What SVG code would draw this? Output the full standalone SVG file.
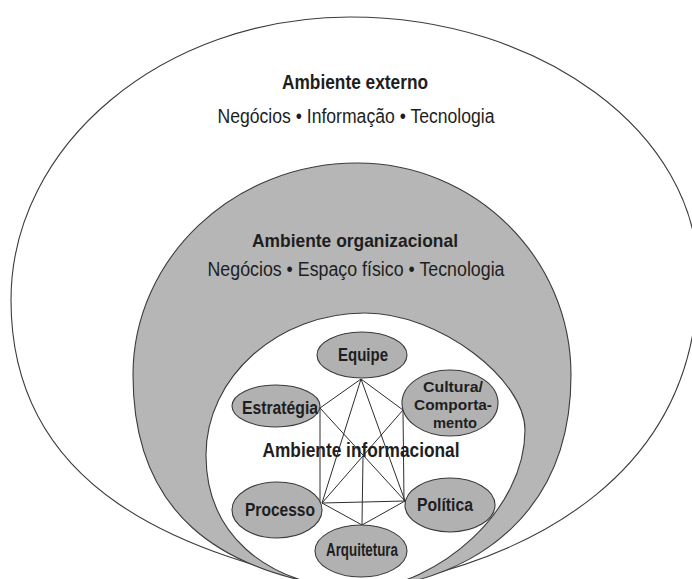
<svg xmlns="http://www.w3.org/2000/svg" width="692" height="579" viewBox="0 0 692 579">
  <style>
    .ring { stroke: #3c3c3c; stroke-width: 1.1; }
    .outer { fill: #ffffff; }
    .org { fill: #b6b6b6; }
    .info { fill: #ffffff; }
    .node ellipse { fill: #b1b1b1; stroke: #3a3a3a; stroke-width: 1.1; }
    .title { font-family: "Liberation Sans Narrow", "Liberation Sans", Arial, sans-serif; font-weight: bold; fill: #1e1e1e; text-anchor: middle; }
    .sub { font-family: "Liberation Sans Narrow", "Liberation Sans", Arial, sans-serif; fill: #1e1e1e; text-anchor: middle; }
    .label { font-family: "Liberation Sans Narrow", "Liberation Sans", Arial, sans-serif; font-weight: bold; font-size: 17.5px; fill: #1e1e1e; text-anchor: middle; }
    .small { font-size: 15.5px; }
    .links line { stroke: #2e2e2e; stroke-width: 1; }
  </style>
  <rect width="692" height="579" fill="#ffffff"/>

  <!-- Ambiente externo -->
  <g id="ambiente-externo">
    <path class="ring outer" d="M360,590 C180,556 11,490 11,300 C11,144 164,17 350,17 C541,17 698,133 698,275 C698,470 540,560 360,590 Z"/>
    <text class="title" x="355" y="89" font-size="19.5" textLength="146" lengthAdjust="spacingAndGlyphs">Ambiente externo</text>
    <text class="sub" x="356" y="123" font-size="19.5" textLength="277" lengthAdjust="spacingAndGlyphs">Negócios • Informação • Tecnologia</text>
  </g>

  <!-- Ambiente organizacional -->
  <g id="ambiente-organizacional">
    <path class="ring org" d="M360,590 C215,575 133,510 133,375 C133,258 234,163 357,163 C475,163 571,258 571,375 C571,510 480,580 360,590 Z"/>
    <text class="title" x="355" y="247" font-size="18.5" textLength="206" lengthAdjust="spacingAndGlyphs">Ambiente organizacional</text>
    <text class="sub" x="356" y="276" font-size="19.5" textLength="297" lengthAdjust="spacingAndGlyphs">Negócios • Espaço físico • Tecnologia</text>
  </g>

  <!-- Ambiente informacional -->
  <g id="ambiente-informacional">
    <path class="ring info" d="M360,590 C260,585 206,530 206,455 C206,377 278,313 365,313 C440,313 525,380 525,430 C525,510 440,585 360,590 Z"/>
  </g>

  <!-- connectors between the six components -->
  <g id="connectors" class="links">
    <line x1="361" y1="379" x2="320" y2="408"/>
    <line x1="361" y1="379" x2="403" y2="410"/>
    <line x1="361" y1="379" x2="322" y2="503"/>
    <line x1="361" y1="379" x2="405" y2="501"/>
    <line x1="320" y1="408" x2="320" y2="503"/>
    <line x1="320" y1="408" x2="405" y2="501"/>
    <line x1="403" y1="410" x2="404" y2="501"/>
    <line x1="403" y1="410" x2="322" y2="503"/>
    <line x1="322" y1="503" x2="405" y2="501"/>
    <line x1="322" y1="503" x2="362" y2="525"/>
    <line x1="405" y1="501" x2="362" y2="525"/>
    <line x1="363" y1="456" x2="362" y2="525"/>
  </g>

  <text class="title" x="361" y="457" font-size="19.5" textLength="197" lengthAdjust="spacingAndGlyphs">Ambiente informacional</text>

  <g id="equipe" class="node">
    <ellipse cx="362" cy="355" rx="45" ry="23"/>
    <text class="label" x="363" y="361" textLength="50" lengthAdjust="spacingAndGlyphs">Equipe</text>
  </g>
  <g id="estrategia" class="node">
    <ellipse cx="276" cy="406" rx="44" ry="21"/>
    <text class="label" x="280" y="414" textLength="76" lengthAdjust="spacingAndGlyphs">Estratégia</text>
  </g>
  <g id="cultura" class="node">
    <ellipse cx="450" cy="403" rx="48" ry="33"/>
    <text class="label small" x="453" y="392" textLength="60" lengthAdjust="spacingAndGlyphs">Cultura/</text>
    <text class="label small" x="453" y="410" textLength="78" lengthAdjust="spacingAndGlyphs">Comporta-</text>
    <text class="label small" x="455" y="428" textLength="44" lengthAdjust="spacingAndGlyphs">mento</text>
  </g>
  <g id="processo" class="node">
    <ellipse cx="277" cy="510" rx="45" ry="28"/>
    <text class="label" x="280" y="516" textLength="70" lengthAdjust="spacingAndGlyphs">Processo</text>
  </g>
  <g id="politica" class="node">
    <ellipse cx="450" cy="505" rx="45" ry="27"/>
    <text class="label" x="445" y="511" textLength="56" lengthAdjust="spacingAndGlyphs">Política</text>
  </g>
  <g id="arquitetura" class="node">
    <ellipse cx="361" cy="551" rx="46" ry="26"/>
    <text class="label" x="362" y="556" font-size="16.5" textLength="72" lengthAdjust="spacingAndGlyphs">Arquitetura</text>
  </g>
</svg>
